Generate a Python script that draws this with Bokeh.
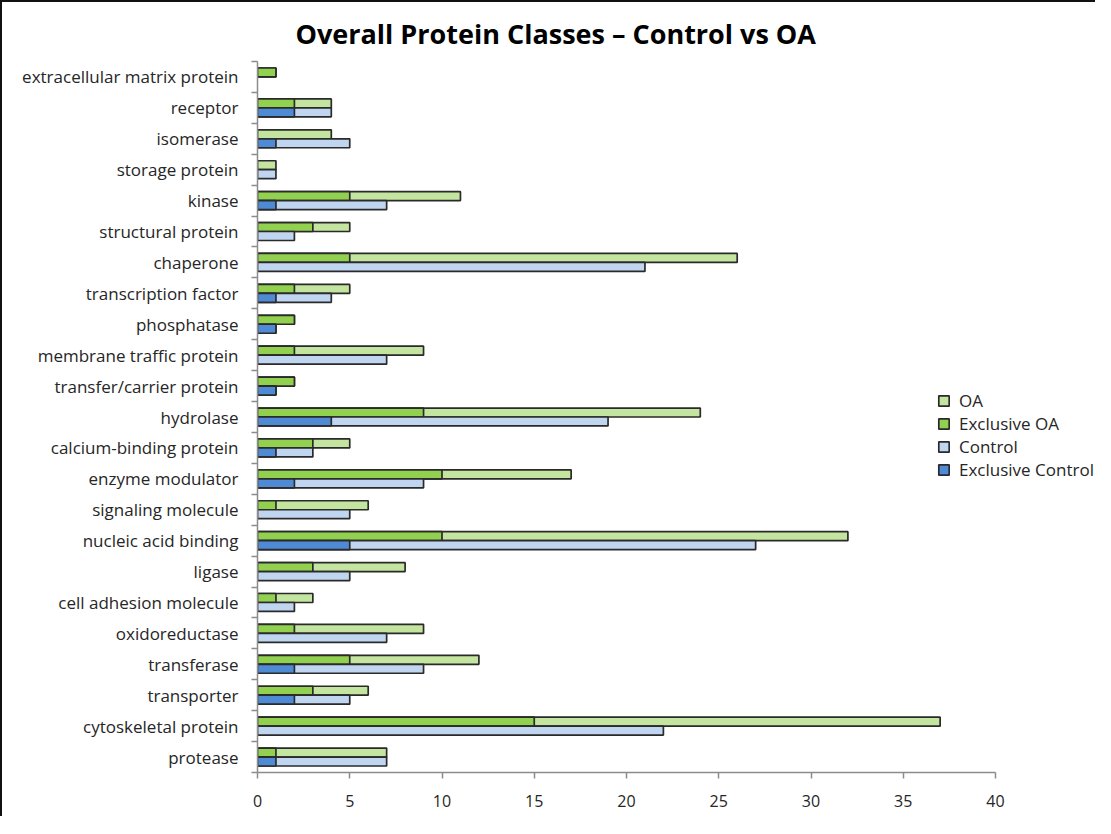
from bokeh.plotting import figure
from bokeh.models import FixedTicker, Range1d, Legend, LegendItem, ColumnDataSource
from bokeh.embed import file_html
from bokeh.resources import INLINE

categories = [
    "extracellular matrix protein", "receptor", "isomerase", "storage protein",
    "kinase", "structural protein", "chaperone", "transcription factor",
    "phosphatase", "membrane traffic protein", "transfer/carrier protein",
    "hydrolase", "calcium-binding protein", "enzyme modulator",
    "signaling molecule", "nucleic acid binding", "ligase",
    "cell adhesion molecule", "oxidoreductase", "transferase", "transporter",
    "cytoskeletal protein", "protease",
]
oa = [1, 4, 4, 1, 11, 5, 26, 5, 2, 9, 2, 24, 5, 17, 6, 32, 8, 3, 9, 12, 6, 37, 7]
exclusive_oa = [1, 2, 0, 0, 5, 3, 5, 2, 2, 2, 2, 9, 3, 10, 1, 10, 3, 1, 2, 5, 3, 15, 1]
control = [0, 4, 5, 1, 7, 2, 21, 4, 1, 7, 1, 19, 3, 9, 5, 27, 5, 2, 7, 9, 5, 22, 7]
exclusive_control = [0, 2, 1, 0, 1, 0, 0, 1, 1, 0, 1, 4, 1, 2, 0, 5, 0, 0, 0, 2, 2, 0, 1]
x_ticks = [0, 5, 10, 15, 20, 25, 30, 35, 40]
x_max = 40

C_OA = "#c4e59f"
C_XOA = "#92d050"
C_CTRL = "#c0d5f0"
C_XCTRL = "#4f8ad4"
OUTLINE = "#2a2a2a"

W, H = 1095, 816
MB_LEFT, MB_TOP = 255, 56
AXIS_PX = 738              # pixel length of the 0..40 axis
FRAME_W = W - MB_LEFT
x_end = x_max * FRAME_W / AXIS_PX

n = len(categories)
centers = [n - i - 0.5 for i in range(n)]
bar_h = 0.29


def src(values, offset):
    ys = [c + offset for c, v in zip(centers, values) if v > 0]
    vs = [v for v in values if v > 0]
    return ColumnDataSource(dict(y=ys, right=vs))


p = figure(width=W, height=H, x_range=Range1d(0, x_end), y_range=Range1d(0, n),
           output_backend="svg", toolbar_location=None,
           min_border_left=MB_LEFT, min_border_right=0, min_border_top=MB_TOP,
           min_border_bottom=H - MB_TOP - 714)
p.styles = {"border-left": "2px solid #111111", "border-top": "2px solid #111111"}

p.title.text = "Overall Protein Classes \u2013 Control vs OA"
p.title.align = "left"
p.title.offset = 38
p.title.text_font = "Open Sans"
p.title.text_font_size = "27px"
p.title.text_font_style = "bold"
p.title.text_color = "#000000"
p.title.standoff = 20

r_oa = p.hbar(y="y", left=0, right="right", height=bar_h, source=src(oa, bar_h / 2),
              fill_color=C_OA, line_color=OUTLINE, line_width=1.7)
r_xoa = p.hbar(y="y", left=0, right="right", height=bar_h, source=src(exclusive_oa, bar_h / 2),
               fill_color=C_XOA, line_color=OUTLINE, line_width=1.7)
r_ctrl = p.hbar(y="y", left=0, right="right", height=bar_h, source=src(control, -bar_h / 2),
                fill_color=C_CTRL, line_color=OUTLINE, line_width=1.7)
r_xctrl = p.hbar(y="y", left=0, right="right", height=bar_h, source=src(exclusive_control, -bar_h / 2),
                 fill_color=C_XCTRL, line_color=OUTLINE, line_width=1.7)

p.grid.visible = False
p.outline_line_color = None

# x axis
xa = p.xaxis[0]
xa.ticker = FixedTicker(ticks=x_ticks, minor_ticks=[])
xa.bounds = (0, x_max)
xa.axis_line_color = "#8c8c8c"
xa.axis_line_width = 1.5
xa.major_tick_line_color = "#8c8c8c"
xa.major_tick_line_width = 1.5
xa.major_tick_out = 6
xa.major_tick_in = 0
xa.major_label_standoff = 16
xa.major_label_text_font = "Open Sans"
xa.major_label_text_font_size = "16px"
xa.major_label_text_color = "#262626"

# y axis
ya = p.yaxis[0]
ya.ticker = FixedTicker(ticks=centers, minor_ticks=list(range(0, n + 1)))
ya.major_label_overrides = {c: name for c, name in zip(centers, categories)}
ya.axis_line_color = "#8c8c8c"
ya.axis_line_width = 1.5
ya.major_tick_line_color = None
ya.major_tick_out = 0
ya.major_tick_in = 0
ya.minor_tick_line_color = "#8c8c8c"
ya.minor_tick_line_width = 1.5
ya.minor_tick_out = 6
ya.minor_tick_in = 0
ya.major_label_standoff = 13
ya.major_label_text_font = "Open Sans"
ya.major_label_text_font_size = "17px"
ya.major_label_text_color = "#262626"

legend = Legend(items=[
    LegendItem(label="OA", renderers=[r_oa]),
    LegendItem(label="Exclusive OA", renderers=[r_xoa]),
    LegendItem(label="Control", renderers=[r_ctrl]),
    LegendItem(label="Exclusive Control", renderers=[r_xctrl]),
], location=(670, 281))
legend.border_line_alpha = 0
legend.background_fill_alpha = 0
legend.label_text_font = "Open Sans"
legend.label_text_font_size = "17px"
legend.label_text_color = "#262626"
legend.label_height = 18
legend.glyph_width = 13
legend.glyph_height = 13
legend.spacing = 0
legend.label_standoff = 9
p.add_layout(legend)

open("out.html", "w").write(file_html(p, INLINE))
